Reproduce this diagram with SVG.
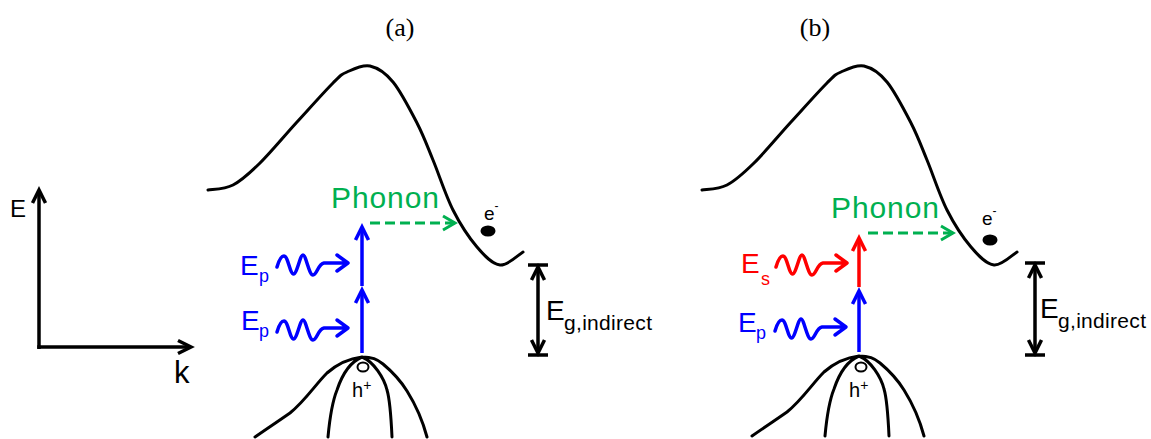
<svg xmlns="http://www.w3.org/2000/svg" xmlns:xlink="http://www.w3.org/1999/xlink" width="1151" height="439" viewBox="0 0 1151 439">
<style>
.band{fill:none;stroke:#000;stroke-width:3;stroke-linecap:round;stroke-linejoin:round}
.ax{fill:none;stroke:#000;stroke-width:3.5}
.blk{fill:none;stroke:#000;stroke-width:3}
.blue{fill:none;stroke:#0000ff;stroke-width:3.5}
.red{fill:none;stroke:#ff0000;stroke-width:3.5}
.grn{fill:none;stroke:#00b050;stroke-width:3;stroke-dasharray:10 5}
.wb{fill:none;stroke:#0000ff;stroke-width:3.5;stroke-linecap:round;stroke-linejoin:round}
.wr{fill:none;stroke:#ff0000;stroke-width:3.5;stroke-linecap:round;stroke-linejoin:round}
.sans{font-family:"Liberation Sans",Arial,sans-serif}
.title{font-family:"Liberation Serif","Times New Roman",serif;font-size:26px;fill:#000}
.big{font-size:28px}
.sub{font-size:18px}
.tb{fill:#0000ff}
.tr{fill:#ff0000}
.tg{fill:#00b050;font-size:30px}
.tk{fill:#000}
</style>
<defs>
<marker id="mBlk" markerUnits="userSpaceOnUse" orient="auto-start-reverse" refX="0" refY="0" overflow="visible">
<path d="M-13,-6.5 L0,0 L-13,6.5" fill="none" stroke="#000" stroke-width="3.5"/>
</marker>
<marker id="mBlue" markerUnits="userSpaceOnUse" orient="auto" refX="0" refY="0" overflow="visible">
<path d="M-13,-6.5 L0,0 L-13,6.5" fill="none" stroke="#0000ff" stroke-width="3.5"/>
</marker>
<marker id="mRed" markerUnits="userSpaceOnUse" orient="auto" refX="0" refY="0" overflow="visible">
<path d="M-13,-6.5 L0,0 L-13,6.5" fill="none" stroke="#ff0000" stroke-width="3.5"/>
</marker>
<marker id="mGrn" markerUnits="userSpaceOnUse" orient="auto" refX="0" refY="0" overflow="visible">
<path d="M-12,-7 L0,0 L-12,7" fill="none" stroke="#00b050" stroke-width="3"/>
</marker>
<path id="wave" d="M-71,4 C-69,-3 -67,-7 -64,-7 C-60,-7 -58,11 -54.5,11 C-51,11 -48,-8 -45,-8 C-42,-8 -39,12 -35,12 C-31,12 -30,1 -24,0 L0,0 M-11,-8 L0,0 L-11,8"/>
<path id="cband" d="M208,190 C212.2,189.2 224.3,189.5 233,185 C241.7,180.5 249.3,173.5 260,163 C270.7,152.5 284.8,135.3 297,122 C309.2,108.7 324.7,91.3 333,83 C341.3,74.7 340.8,74.8 347,72 C353.2,69.2 362.3,64.3 370,66 C377.7,67.7 385.2,72.5 393,82 C400.8,91.5 410.3,110 417,123 C423.7,136 427,145.5 433,160 C439,174.5 445.7,195.5 453,210 C460.3,224.5 469.2,237.8 477,247 C484.8,256.2 492.3,264.2 500,265 C507.7,265.8 519.2,254.2 523,252"/>
<path id="vband" d="M255,437 C268,428 280,420 290,413 C305,401 315,385 327,373 C335,366 345,359 362,357 C372,357 377,359 383,364 C395,374 402,383 407,391 C417,407 423,422 427,437 M328,437 C330,415 333,400 337,390 C342,375 350,362 362,357 M392,437 C391,415 390,400 387,390 C384,378 374,362 362,357"/>
</defs>

<g id="titles">
<text class="title" x="400" y="36" text-anchor="middle">(a)</text>
<text class="title" x="815" y="36" text-anchor="middle">(b)</text>
</g>

<g id="axes">
<line class="ax" x1="39" y1="349" x2="39" y2="190" marker-end="url(#mBlk)"/>
<line class="ax" x1="37.25" y1="347" x2="191" y2="347" marker-end="url(#mBlk)"/>
<text class="sans tk" x="10" y="217" font-size="24">E</text>
<text class="sans tk" x="174" y="383" font-size="31">k</text>
</g>

<g id="panel-a">
<g id="a-conduction-band"><use href="#cband" class="band"/></g>
<g id="a-valence-band"><use href="#vband" class="band"/></g>
<g id="a-electron">
<ellipse cx="488" cy="231" rx="7.5" ry="5.5" fill="#000"/>
<text class="sans tk" x="484" y="220" font-size="19">e<tspan font-size="12" dy="-10">-</tspan></text>
</g>
<g id="a-hole">
<ellipse cx="363" cy="367" rx="5.5" ry="4.5" fill="#fff" stroke="#000" stroke-width="2"/>
<text class="sans tk" x="352" y="397" font-size="20">h<tspan font-size="14" dy="-7">+</tspan></text>
</g>
<g id="a-phonon-label"><text class="sans tg" x="331" y="208" textLength="108">Phonon</text></g>
<g id="a-ep1">
<text class="sans tb big" x="240" y="275">E</text><text class="sans tb sub" x="259" y="282">p</text>
<use href="#wave" class="wb" transform="translate(348,263)"/>
</g>
<g id="a-ep2">
<text class="sans tb big" x="241" y="330">E</text><text class="sans tb sub" x="259" y="337">p</text>
<use href="#wave" class="wb" transform="translate(348,328)"/>
</g>
<g id="a-gap">
<line class="ax" x1="528" y1="265" x2="548" y2="265"/>
<line class="ax" x1="528" y1="355" x2="548" y2="355"/>
<text class="sans tk big" x="546" y="320">E</text><text class="sans tk" x="564" y="330" font-size="21" textLength="88">g,indirect</text>
</g>
</g>

<g id="panel-b">
<g id="b-conduction-band"><use href="#cband" class="band" transform="translate(494,0)"/></g>
<g id="b-valence-band"><use href="#vband" class="band" transform="translate(497,-1)"/></g>
<g id="b-electron">
<ellipse cx="990" cy="240" rx="7.5" ry="5.5" fill="#000"/>
<text class="sans tk" x="982" y="225" font-size="19">e<tspan font-size="12" dy="-10">-</tspan></text>
</g>
<g id="b-hole">
<ellipse cx="861" cy="367" rx="5.5" ry="4.5" fill="#fff" stroke="#000" stroke-width="2"/>
<text class="sans tk" x="849" y="397" font-size="20">h<tspan font-size="14" dy="-7">+</tspan></text>
</g>
<g id="b-phonon-label"><text class="sans tg" x="831" y="218" textLength="108">Phonon</text></g>
<g id="b-es">
<text class="sans tr big" x="741" y="273">E</text><text class="sans tr sub" x="761" y="285">s</text>
<use href="#wave" class="wr" transform="translate(847,263)"/>
</g>
<g id="b-ep">
<text class="sans tb big" x="738" y="332">E</text><text class="sans tb sub" x="756" y="339">p</text>
<use href="#wave" class="wb" transform="translate(846,327)"/>
</g>
<g id="b-gap">
<line class="ax" x1="1025" y1="263" x2="1045" y2="263"/>
<line class="ax" x1="1025" y1="355" x2="1045" y2="355"/>
<text class="sans tk big" x="1040" y="318">E</text><text class="sans tk" x="1058" y="328" font-size="21" textLength="88">g,indirect</text>
</g>
</g>

<g id="connectors">
<line class="blue" x1="362" y1="286" x2="362" y2="227" marker-end="url(#mBlue)"/>
<line class="blue" x1="362" y1="353" x2="362" y2="290" marker-end="url(#mBlue)"/>
<line class="grn" x1="370" y1="223" x2="455" y2="223" marker-end="url(#mGrn)"/>
<line class="ax" x1="538" y1="267" x2="538" y2="353" marker-start="url(#mBlk)" marker-end="url(#mBlk)"/>
<line class="red" x1="859" y1="287" x2="859" y2="238" marker-end="url(#mRed)"/>
<line class="blue" x1="859" y1="352" x2="859" y2="291" marker-end="url(#mBlue)"/>
<line class="grn" x1="868" y1="233" x2="953" y2="233" marker-end="url(#mGrn)"/>
<line class="ax" x1="1035" y1="265" x2="1035" y2="353" marker-start="url(#mBlk)" marker-end="url(#mBlk)"/>
</g>
</svg>
